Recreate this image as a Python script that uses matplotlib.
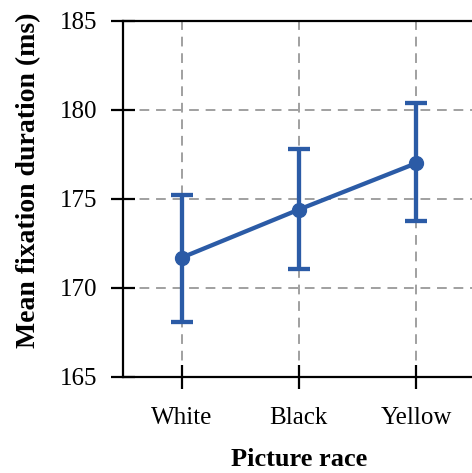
import matplotlib.pyplot as plt

races = ['White', 'Black', 'Yellow']
means = [171.7, 174.4, 177.0]
err_low = [168.1, 171.05, 173.75]
err_high = [175.2, 177.8, 180.4]

plt.rcParams['font.family'] = ['Liberation Serif', 'DejaVu Serif']

fig = plt.figure(figsize=(4.72, 4.73), dpi=100)
ax = fig.add_axes([0.2606, 0.203, 0.745, 0.753])

x = list(range(len(races)))
yerr = [[m - lo for m, lo in zip(means, err_low)],
        [hi - m for m, hi in zip(means, err_high)]]
color = '#2b5ba6'
ax.errorbar(x, means, yerr=yerr, color=color, lw=3.1, marker='o', ms=10,
            capsize=8, capthick=3.1, elinewidth=3.1, zorder=3)

ax.set_xlim(-0.5, 2.5)
ax.set_ylim(165, 185)
ax.set_yticks([165, 170, 175, 180, 185])
ax.set_xticks(x)
ax.set_xticklabels(races)
ax.grid(True, linestyle=(0, (5, 3.5)), color='#a0a0a0', lw=1.4)
ax.set_axisbelow(True)
for s in ax.spines.values():
    s.set_linewidth(1.6)
ax.tick_params(direction='inout', length=17, width=1.6, labelsize=18, pad=10)
ax.tick_params(axis='x', pad=13)
ax.set_xlabel('Picture race', fontsize=19, fontweight='bold', labelpad=14)
ax.set_ylabel('Mean fixation duration (ms)', fontsize=20, fontweight='bold')
ax.yaxis.set_label_coords(-0.233, 0.553)

fig.savefig('out.png', dpi=100)
